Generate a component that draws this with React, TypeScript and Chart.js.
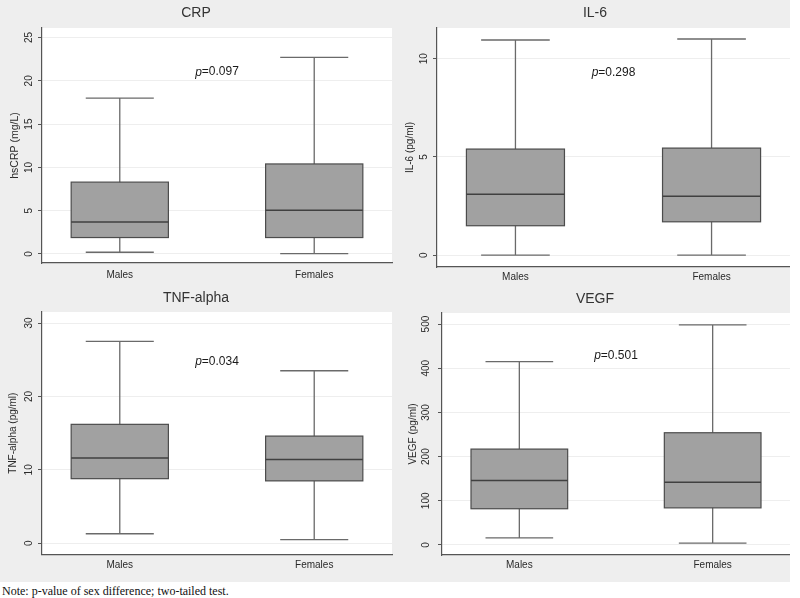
import React, { useEffect, useRef } from 'react';
import { Chart, registerables } from 'chart.js';

Chart.register(...registerables);

// ---------- data ----------
const categories = ['Males', 'Females'];
const categoryPositions = [1, 2];

const crpLow = [0.2, 0.05];
const crpQ1 = [1.9, 1.9];
const crpMedian = [3.7, 5.05];
const crpQ3 = [8.3, 10.4];
const crpHigh = [18.0, 22.7];
const crpTicks = [0, 5, 10, 15, 20, 25];

const il6Low = [0, 0];
const il6Q1 = [1.5, 1.7];
const il6Median = [3.1, 3.0];
const il6Q3 = [5.4, 5.45];
const il6High = [10.95, 11.0];
const il6Ticks = [0, 5, 10];

const tnfLow = [1.3, 0.5];
const tnfQ1 = [8.8, 8.5];
const tnfMedian = [11.6, 11.4];
const tnfQ3 = [16.2, 14.6];
const tnfHigh = [27.5, 23.5];
const tnfTicks = [0, 10, 20, 30];

const vegfLow = [16, 4];
const vegfQ1 = [82, 84];
const vegfMedian = [146, 142];
const vegfQ3 = [217, 254];
const vegfHigh = [415, 498];
const vegfTicks = [0, 100, 200, 300, 400, 500];

const pValues = ['0.097', '0.298', '0.034', '0.501'];

const FONT = '"Liberation Sans", Arial, sans-serif';

type PanelCfg = {
  title: string;
  yTitle: string;
  low: number[];
  q1: number[];
  median: number[];
  q3: number[];
  high: number[];
  ticks: number[];
  yMin: number;
  yMax: number;
  pValue: string;
  pY: number;
  left: number;
  top: number;
  w: number;
  h: number;
  yAxisWidth: number;
  xAxisHeight: number;
  padRight: number;
  titlePadTop: number;
  titlePadBottom: number;
  yTitlePad: number;
  yTitleSize: number;
  xLabelPad: number;
};

const panels: PanelCfg[] = [
  {
    title: 'CRP', yTitle: 'hsCRP (mg/L)',
    low: crpLow, q1: crpQ1, median: crpMedian, q3: crpQ3, high: crpHigh,
    ticks: crpTicks, yMin: -1.04, yMax: 26.1, pValue: pValues[0], pY: 21.0,
    left: 0, top: 0, w: 400, h: 290, yAxisWidth: 42, xAxisHeight: 27, padRight: 8,
    titlePadTop: 4.6, titlePadBottom: 6.6, yTitlePad: 9, yTitleSize: 10.5, xLabelPad: 6,
  },
  {
    title: 'IL-6', yTitle: 'IL-6 (pg/ml)',
    low: il6Low, q1: il6Q1, median: il6Median, q3: il6Q3, high: il6High,
    ticks: il6Ticks, yMin: -0.6, yMax: 11.56, pValue: pValues[1], pY: 9.27,
    left: 400, top: 0, w: 390, h: 290, yAxisWidth: 37, xAxisHeight: 23, padRight: 0,
    titlePadTop: 4.6, titlePadBottom: 6.6, yTitlePad: 4, yTitleSize: 10, xLabelPad: 4,
  },
  {
    title: 'TNF-alpha', yTitle: 'TNF-alpha (pg/ml)',
    low: tnfLow, q1: tnfQ1, median: tnfMedian, q3: tnfQ3, high: tnfHigh,
    ticks: tnfTicks, yMin: -1.5, yMax: 31.5, pValue: pValues[2], pY: 24.7,
    left: 0, top: 290, w: 400, h: 292, yAxisWidth: 42, xAxisHeight: 27.7, padRight: 8,
    titlePadTop: 0, titlePadBottom: 5.2, yTitlePad: 7, yTitleSize: 10, xLabelPad: 5.4,
  },
  {
    title: 'VEGF', yTitle: 'VEGF (pg/ml)',
    low: vegfLow, q1: vegfQ1, median: vegfMedian, q3: vegfQ3, high: vegfHigh,
    ticks: vegfTicks, yMin: -22.7, yMax: 525, pValue: pValues[3], pY: 428,
    left: 400, top: 290, w: 390, h: 292, yAxisWidth: 42, xAxisHeight: 27, padRight: 0,
    titlePadTop: 0.5, titlePadBottom: 5.7, yTitlePad: 7, yTitleSize: 10, xLabelPad: 4.7,
  },
];

function makePlugin(cfg: PanelCfg) {
  return {
    id: 'boxExtras',
    beforeDraw(chart: any) {
      const { ctx, chartArea: a } = chart;
      ctx.save();
      ctx.fillStyle = '#ffffff';
      ctx.fillRect(a.left, a.top, a.right - a.left, a.bottom - a.top);
      ctx.restore();
    },
    afterDatasetsDraw(chart: any) {
      const { ctx } = chart;
      const xs = chart.scales.x;
      const ys = chart.scales.y;
      const meta = chart.getDatasetMeta(0);
      ctx.save();
      categoryPositions.forEach((pos, i) => {
        const x = xs.getPixelForValue(pos);
        const bar = meta.data[i];
        const bw = bar ? bar.width : 97;
        const cap = bw * 0.7;
        const yLow = ys.getPixelForValue(cfg.low[i]);
        const yQ1 = ys.getPixelForValue(cfg.q1[i]);
        const yQ3 = ys.getPixelForValue(cfg.q3[i]);
        const yHigh = ys.getPixelForValue(cfg.high[i]);
        const yMed = ys.getPixelForValue(cfg.median[i]);
        ctx.strokeStyle = '#6a6a6a';
        ctx.lineWidth = 1.3;
        ctx.beginPath();
        ctx.moveTo(x, yQ3);
        ctx.lineTo(x, yHigh);
        ctx.moveTo(x - cap / 2, yHigh);
        ctx.lineTo(x + cap / 2, yHigh);
        ctx.moveTo(x, yQ1);
        ctx.lineTo(x, yLow);
        ctx.moveTo(x - cap / 2, yLow);
        ctx.lineTo(x + cap / 2, yLow);
        ctx.stroke();
        // box outline (drawn crisply on top)
        ctx.strokeStyle = '#4c4c4c';
        ctx.lineWidth = 1.2;
        ctx.strokeRect(x - bw / 2, yQ3, bw, yQ1 - yQ3);
        ctx.strokeStyle = '#404040';
        ctx.lineWidth = 1.5;
        ctx.beginPath();
        ctx.moveTo(x - bw / 2, yMed);
        ctx.lineTo(x + bw / 2, yMed);
        ctx.stroke();
      });
      const px = xs.getPixelForValue(1.5);
      const py = ys.getPixelForValue(cfg.pY);
      const rest = '=' + cfg.pValue;
      ctx.fillStyle = '#1a1a1a';
      ctx.textBaseline = 'middle';
      ctx.font = 'italic 12px ' + FONT;
      const wp = ctx.measureText('p').width;
      ctx.font = '12px ' + FONT;
      const wr = ctx.measureText(rest).width;
      const start = px - (wp + wr) / 2;
      ctx.textAlign = 'left';
      ctx.font = 'italic 12px ' + FONT;
      ctx.fillText('p', start, py);
      ctx.font = '12px ' + FONT;
      ctx.fillText(rest, start + wp, py);
      ctx.restore();
    },
  };
}

function BoxPanel({ cfg }: { cfg: PanelCfg }) {
  const ref = useRef<HTMLCanvasElement>(null);
  useEffect(() => {
    if (!ref.current) return;
    const chart = new Chart(ref.current, {
      type: 'bar',
      data: {
        datasets: [
          {
            data: categoryPositions.map((pos, i) => ({ x: pos, y: [cfg.q1[i], cfg.q3[i]] })) as any,
            backgroundColor: '#a1a1a1',
            borderColor: '#4c4c4c',
            borderWidth: 0,
            borderSkipped: false,
            categoryPercentage: 1,
            barPercentage: 0.5,
          },
        ],
      },
      options: {
        animation: false,
        responsive: false,
        maintainAspectRatio: false,
        devicePixelRatio: 1,
        layout: { padding: { left: 0, right: cfg.padRight, top: 0, bottom: 0 } },
        plugins: {
          legend: { display: false },
          tooltip: { enabled: false },
          title: {
            display: true,
            text: cfg.title,
            color: '#333333',
            font: { family: FONT, size: 14, weight: 'normal' },
            padding: { top: cfg.titlePadTop, bottom: cfg.titlePadBottom },
          },
        },
        scales: {
          x: {
            type: 'linear',
            min: 0.6,
            max: 2.4,
            offset: false,
            grid: { display: false, drawTicks: false, offset: false },
            border: { display: true, color: '#555555', width: 1.2 },
            afterBuildTicks: (scale: any) => {
              scale.ticks = categoryPositions.map((v) => ({ value: v }));
            },
            afterFit: (scale: any) => {
              scale.height = cfg.xAxisHeight;
            },
            ticks: {
              autoSkip: false,
              padding: cfg.xLabelPad,
              color: '#2a2a2a',
              font: { family: FONT, size: 10 },
              maxRotation: 0,
              minRotation: 0,
              callback: (v: any) => categories[categoryPositions.indexOf(Number(v))] ?? '',
            },
          },
          y: {
            type: 'linear',
            min: cfg.yMin,
            max: cfg.yMax,
            beginAtZero: false,
            grid: {
              color: '#eeeeee',
              drawTicks: true,
              tickLength: 4,
              tickColor: '#555555',
            },
            border: { display: true, color: '#555555', width: 1.2 },
            afterBuildTicks: (scale: any) => {
              scale.ticks = cfg.ticks.map((v) => ({ value: v }));
            },
            afterFit: (scale: any) => {
              scale.width = cfg.yAxisWidth;
            },
            ticks: {
              autoSkip: false,
              padding: 3,
              color: '#2a2a2a',
              font: { family: FONT, size: 10 },
              minRotation: 90,
              maxRotation: 90,
              crossAlign: 'center',
              callback: (v: any) => String(v),
            },
            title: {
              display: true,
              text: cfg.yTitle,
              color: '#2a2a2a',
              font: { family: FONT, size: cfg.yTitleSize },
              padding: { top: cfg.yTitlePad, bottom: 0 },
            },
          },
        },
      } as any,
      plugins: [makePlugin(cfg)],
    });
    return () => chart.destroy();
  }, [cfg]);
  return (
    <canvas
      ref={ref}
      width={cfg.w}
      height={cfg.h}
      style={{ position: 'absolute', left: cfg.left, top: cfg.top, width: cfg.w, height: cfg.h }}
    />
  );
}

export default function App() {
  return (
    <div style={{ position: 'absolute', left: 0, top: 0, width: 800, height: 598, background: '#ffffff', overflow: 'hidden' }}>
      <div style={{ position: 'absolute', left: 0, top: 0, width: 790, height: 582, background: '#eeeeee' }} />
      {panels.map((p) => (
        <BoxPanel key={p.title} cfg={p} />
      ))}
      <div
        style={{
          position: 'absolute',
          left: 2,
          top: 584,
          fontFamily: '"Liberation Serif", "Times New Roman", serif',
          fontSize: 12,
          lineHeight: '14px',
          color: '#111',
          whiteSpace: 'nowrap',
        }}
      >
        Note: p-value of sex difference; two-tailed test.
      </div>
    </div>
  );
}
